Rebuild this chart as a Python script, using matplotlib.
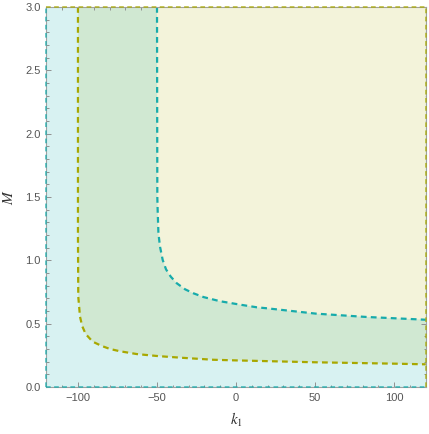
import matplotlib
matplotlib.use("Agg")
import matplotlib.pyplot as plt
from matplotlib.ticker import MultipleLocator

# boundary of the outer (green) region, asymptote near k1 = -100
olive_k = [-100, -100, -99.9, -99.8, -98.7, -97.3, -95.1, -90.7, -85.0, -79.7, -73.4,
           -62.8, -50.2, -43.8, -33.4, -14.4, 0, 50.6, 101, 120]
olive_M = [3.0, 1.2, 0.95, 0.713, 0.555, 0.48, 0.418, 0.358, 0.324, 0.30, 0.282,
           0.26, 0.245, 0.239, 0.23, 0.215, 0.21, 0.195, 0.184, 0.179]

# boundary of the inner (yellow) region, asymptote near k1 = -50
teal_k = [-50, -49.8, -49.6, -49.1, -48.1, -46.4, -44.3, -41.3, -37.5, -32.2, -27.0,
          -20.6, -10.1, 2.6, 13.2, 19, 50.6, 82.3, 120]
teal_M = [3.0, 1.5, 1.4, 1.213, 1.108, 1.003, 0.929, 0.871, 0.819, 0.771, 0.74,
          0.71, 0.677, 0.65, 0.629, 0.622, 0.579, 0.553, 0.531]

xlim = (-120, 120)
ylim = (0, 3)
xticks = [-100, -50, 0, 50, 100]
yticks = [0.0, 0.5, 1.0, 1.5, 2.0, 2.5, 3.0]

c_bg = "#d8f2f2"
c_green = "#d0e8d2"
c_yellow = "#f3f3da"
c_teal = "#17abab"
c_olive = "#a8a800"
c_frame = "#a0a0a0"
c_text = "#555555"

plt.rcParams["mathtext.fontset"] = "stix"

fig = plt.figure(figsize=(4.29, 4.34), dpi=100)
ax = fig.add_axes([0.108, 0.1083, 0.8845, 0.8756])
ax.set_xlim(*xlim)
ax.set_ylim(*ylim)
ax.set_facecolor(c_bg)

ax.fill(olive_k + [xlim[1]], olive_M + [ylim[1]], color=c_green, lw=0, zorder=1)
ax.fill(teal_k + [xlim[1]], teal_M + [ylim[1]], color=c_yellow, lw=0, zorder=2)

dash = (0, (2.6, 1.9))
ax.plot(olive_k, olive_M, color=c_olive, lw=1.6, linestyle=dash, zorder=3)
ax.plot(teal_k, teal_M, color=c_teal, lw=1.6, linestyle=dash, zorder=3)

# region boundaries along the frame
edge_kw = dict(lw=1.3, linestyle=dash, zorder=5, clip_on=False, alpha=0.7)
ax.plot([xlim[0], xlim[0]], [ylim[0], ylim[1]], color=c_teal, **edge_kw)
ax.plot([xlim[0], xlim[1]], [ylim[0], ylim[0]], color=c_teal, **edge_kw)
ax.plot([xlim[0], xlim[1]], [ylim[1], ylim[1]], color=c_olive, **edge_kw)
ax.plot([xlim[1], xlim[1]], [ylim[0], ylim[1]], color=c_olive, **edge_kw)

for s in ax.spines.values():
    s.set_color(c_frame)
    s.set_linewidth(0.8)
    s.set_zorder(4)

ax.set_xticks(xticks)
ax.set_xticklabels([("\u2212" + str(-t)) if t < 0 else str(t) for t in xticks])
ax.set_yticks(yticks)
ax.set_yticklabels([f"{t:.1f}" for t in yticks])
ax.xaxis.set_minor_locator(MultipleLocator(10))
ax.yaxis.set_minor_locator(MultipleLocator(0.1))
ax.tick_params(which="both", direction="in", top=True, right=True, color="#909090",
               labelcolor=c_text, labelsize=8, width=0.7)
ax.tick_params(which="major", length=3.5, pad=4)
ax.tick_params(which="minor", length=1.8)
for lab in ax.get_xticklabels() + ax.get_yticklabels():
    lab.set_family("Liberation Sans")

ax.set_xlabel("$k_1$", fontsize=11, color="#333333", labelpad=6)
ax.set_ylabel("$M$", fontsize=11, color="#333333", labelpad=7)

fig.savefig("out.png", dpi=100)
